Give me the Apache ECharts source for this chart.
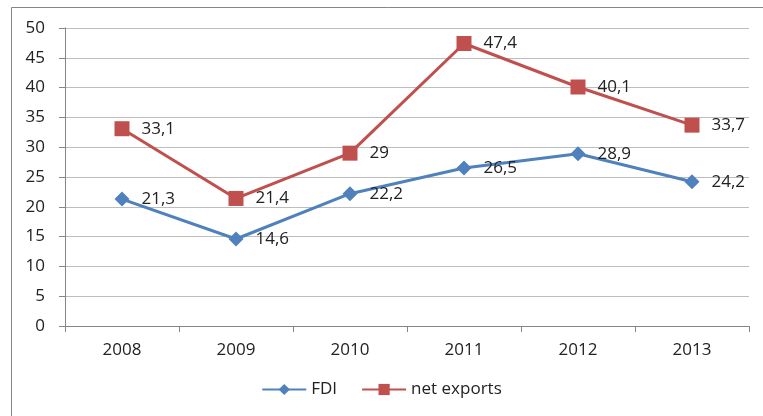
<!DOCTYPE html>
<html>
<head>
<meta charset="utf-8">
<script src="https://cdn.jsdelivr.net/npm/echarts@6/dist/echarts.min.js"></script>
<style>
  html, body { margin: 0; padding: 0; background: #fff; }
  #chart { width: 763px; height: 416px; }
</style>
</head>
<body>
<div id="chart"></div>
<script>
const years = ['2008', '2009', '2010', '2011', '2012', '2013'];
const fdi = [21.3, 14.6, 22.2, 26.5, 28.9, 24.2];
const netExports = [33.1, 21.4, 29, 47.4, 40.1, 33.7];

const chart = echarts.init(document.getElementById('chart'));
const fontFamily = '"Open Sans", "Liberation Sans", sans-serif';
// comma as decimal separator, as in the source
const commaLabel = (p) => String(p.value).replace('.', ',');

const option = {
  animation: false,
  textStyle: { fontFamily: fontFamily },
  graphic: [
    {
      type: 'rect',
      shape: { x: 11.5, y: 7.5, width: 780, height: 430 },
      style: { fill: 'none', stroke: '#868686', lineWidth: 1 }
    }
  ],
  legend: {
    bottom: 13,
    left: 'center',
    itemWidth: 44,
    itemHeight: 14,
    itemGap: 24,
    textStyle: { fontSize: 17, color: '#222', fontFamily: fontFamily },
    data: ['FDI', 'net exports']
  },
  grid: { left: 65, right: 14, top: 28, bottom: 90 },
  xAxis: {
    type: 'category',
    data: years,
    boundaryGap: true,
    axisLine: { lineStyle: { color: '#868686' } },
    axisTick: { show: true, length: 6, lineStyle: { color: '#868686' } },
    axisLabel: { fontSize: 17, color: '#222', margin: 16 }
  },
  yAxis: {
    type: 'value',
    min: 0,
    max: 50,
    interval: 5,
    axisLine: { show: true, lineStyle: { color: '#868686' } },
    axisTick: { show: true, length: 6, lineStyle: { color: '#868686' } },
    axisLabel: { fontSize: 17, color: '#222', margin: 20 },
    splitLine: { lineStyle: { color: '#bdbdbd' } }
  },
  series: [
    {
      name: 'FDI',
      type: 'line',
      data: fdi,
      color: '#4F81BD',
      lineStyle: { width: 3 },
      symbol: 'diamond',
      symbolSize: 15,
      label: {
        show: true,
        position: 'right',
        distance: 12,
        fontSize: 17,
        color: '#222',
        formatter: commaLabel
      }
    },
    {
      name: 'net exports',
      type: 'line',
      data: netExports,
      color: '#C0504D',
      lineStyle: { width: 3 },
      symbol: 'rect',
      symbolSize: 15,
      label: {
        show: true,
        position: 'right',
        distance: 12,
        fontSize: 17,
        color: '#222',
        formatter: commaLabel
      }
    }
  ]
};

chart.setOption(option);
</script>
</body>
</html>
